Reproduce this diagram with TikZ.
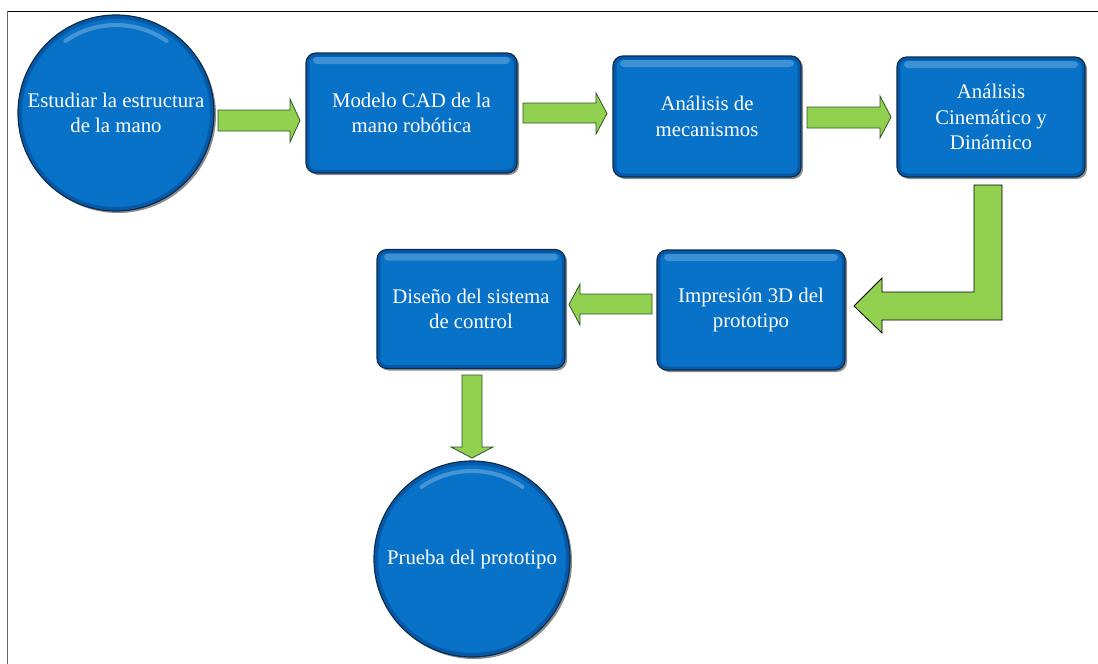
\documentclass[tikz,border=0pt]{standalone}
\usepackage{fontspec}
\setmainfont{Liberation Serif}
\newfontfamily\lserif{Liberation Serif}
\usetikzlibrary{shadows}
\definecolor{bblue}{RGB}{8,114,200}
\definecolor{bedge}{RGB}{12,45,80}
\definecolor{bdark}{RGB}{4,70,140}
\definecolor{agreen}{RGB}{146,208,80}
\definecolor{agedge}{RGB}{45,85,40}
\tikzset{
  lbl/.style={text=white, align=center, font=\lserif\fontsize{20.8}{25.5}\selectfont, inner sep=0pt},
  stepbox/.style={lbl, rectangle, rounded corners=10pt, fill=bblue, draw=bedge, line width=1.2pt,
    drop shadow={shadow xshift=2pt, shadow yshift=-2pt, opacity=0.45, fill=black},
    path picture={
      \draw[bdark, opacity=0.55, line width=7pt, rounded corners=10pt]
        (path picture bounding box.south west) rectangle (path picture bounding box.north east);
      \fill[white, opacity=0.22, rounded corners=4pt]
        ([xshift=7pt,yshift=-4pt]path picture bounding box.north west) rectangle
        ([xshift=-7pt,yshift=-11pt]path picture bounding box.north east);
    }},
  stepcirc/.style={lbl, circle, fill=bblue, draw=bedge, line width=1.2pt, minimum size=196pt,
    drop shadow={shadow xshift=2pt, shadow yshift=-2pt, opacity=0.45, fill=black},
    path picture={
      \draw[bdark, opacity=0.55, line width=8pt]
        (path picture bounding box.center) circle[radius=98pt];
      \draw[white, opacity=0.25, line width=4pt, line cap=round]
        ([shift={(55:88pt)}]path picture bounding box.center) arc[start angle=55, end angle=125, radius=88pt];
    }},
  garrow/.style={fill=agreen, draw=agedge, line width=0.8pt, line join=miter},
  garrowk/.style={fill=agreen, draw=black, line width=0.8pt, line join=miter},
}
\begin{document}
\begin{tikzpicture}[x=1pt,y=-1pt]
\useasboundingbox (0,0) rectangle (1098,664);
\fill[white] (0,0) rectangle (1098,664);
\draw[black, line width=1pt] (1098,11) -- (7.5,11);
\draw[black!60, line width=1.4pt] (7.5,10.5) -- (7.5,664);

% nodes
\node[stepcirc] (c1) at (116,113) {Estudiar la estructura\\de la mano};
\node[stepbox, minimum width=211pt, minimum height=120pt] (b1) at (411.5,113) {Modelo CAD de la\\mano robótica};
\node[stepbox, minimum width=188pt, minimum height=121pt] (b2) at (707,116.5) {Análisis de\\mecanismos};
\node[stepbox, minimum width=188pt, minimum height=120pt] (b3) at (991,117) {Análisis\\Cinemático y\\Dinámico};
\node[stepbox, minimum width=188pt, minimum height=120pt] (b4) at (751,310) {Impresión 3D del\\prototipo};
\node[stepbox, minimum width=188pt, minimum height=119pt] (b5) at (471,309) {Diseño del sistema\\de control};
\node[stepcirc] (c2) at (472,559) {Prueba del prototipo};

% arrows
\draw[garrow] (218,110) -- (290,110) -- (290,99) -- (300,120.5) -- (290,142) -- (290,131) -- (218,131) -- cycle;
\draw[garrow] (523,103) -- (596,103) -- (596,93) -- (607,113.5) -- (596,134) -- (596,123) -- (523,123) -- cycle;
\draw[garrow] (807,107) -- (880,107) -- (880,96) -- (891,117) -- (880,138) -- (880,128) -- (807,128) -- cycle;
\draw[garrowk] (974,185) -- (1002,185) -- (1002,320) -- (882,320) -- (882,333) -- (854,306) -- (882,278) -- (882,292) -- (974,292) -- cycle;
\draw[garrow] (652,294) -- (580,294) -- (580,284) -- (569,304.5) -- (580,325) -- (580,314) -- (652,314) -- cycle;
\draw[garrow] (462,375) -- (482,375) -- (482,447) -- (493,447) -- (472,458) -- (451,447) -- (462,447) -- cycle;
\end{tikzpicture}
\end{document}
